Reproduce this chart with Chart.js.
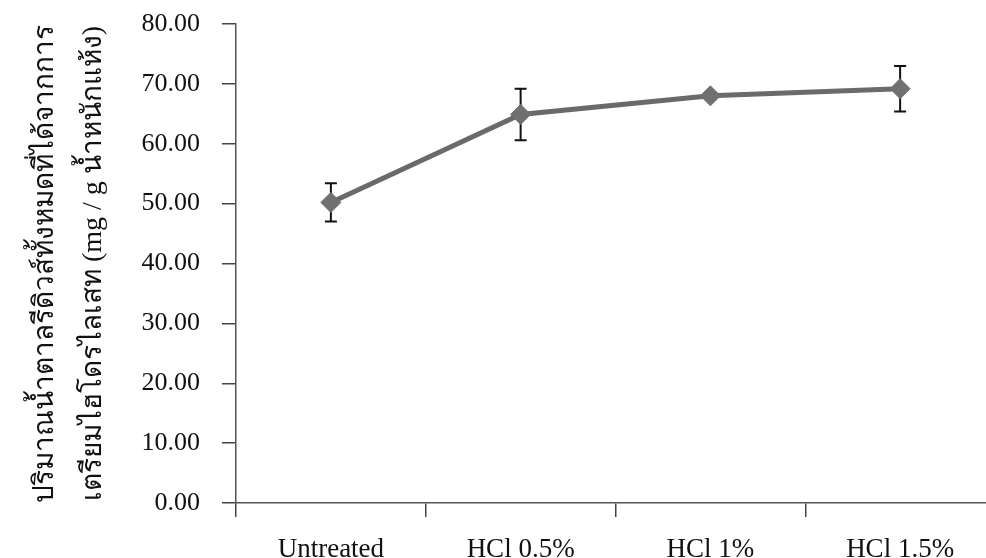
<!DOCTYPE html>
<html>
<head>
<meta charset="utf-8">
<script src="https://cdn.jsdelivr.net/npm/chart.js@4/dist/chart.umd.min.js"></script>
<style>
  html, body { margin: 0; padding: 0; background: #fff; overflow: hidden; }
  #chart { display: block; }
</style>
</head>
<body>
<canvas id="chart" width="1006" height="558"></canvas>
<script>
const categories = ['Untreated', 'HCl 0.5%', 'HCl 1%', 'HCl 1.5%'];
const sugarMeans = [50.2, 64.9, 68.0, 69.2];
const sugarErrors = [3.2, 4.3, 0.5, 3.8];
const yTitle = [
  'ปริมาณน้ำตาลรีดิวส์ทั้งหมดที่ได้จากการ',
  'เตรียมไฮโดรไลเสท (mg / g น้ำหนักแห้ง)'
];

const FONT = '"Liberation Serif", "Times New Roman", serif';

// error bars drawn under the markers
const errorBars = {
  id: 'errorBars',
  beforeDatasetsDraw(chart) {
    const { ctx, scales } = chart;
    const meta = chart.getDatasetMeta(0);
    ctx.save();
    ctx.strokeStyle = '#111';
    ctx.lineWidth = 2;
    meta.data.forEach((pt, i) => {
      const x = pt.x;
      const top = scales.y.getPixelForValue(sugarMeans[i] + sugarErrors[i]);
      const bot = scales.y.getPixelForValue(sugarMeans[i] - sugarErrors[i]);
      ctx.beginPath();
      ctx.moveTo(x, top); ctx.lineTo(x, bot);
      ctx.moveTo(x - 6, top); ctx.lineTo(x + 6, top);
      ctx.moveTo(x - 6, bot); ctx.lineTo(x + 6, bot);
      ctx.stroke();
    });
    ctx.restore();
  }
};

new Chart(document.getElementById('chart'), {
  type: 'line',
  data: {
    labels: categories,
    datasets: [{
      data: sugarMeans,
      borderColor: '#6a6a6a',
      borderWidth: 5,
      pointStyle: 'rectRot',
      pointRadius: 10,
      pointBackgroundColor: '#707070',
      pointBorderColor: '#707070',
      pointBorderWidth: 1,
      tension: 0
    }]
  },
  options: {
    responsive: false,
    animation: false,
    layout: { padding: { top: 24, right: 0, left: 0, bottom: 0 } },
    plugins: {
      legend: { display: false },
      tooltip: { enabled: false }
    },
    scales: {
      x: {
        offset: true,
        afterFit(scale) { scale.height = 55; },
        grid: {
          offset: true,
          drawOnChartArea: false,
          tickLength: 14,
          color: '#444',
          lineWidth: 1.5
        },
        border: { color: '#555', width: 1.5 },
        ticks: {
          color: '#111',
          padding: 17,
          font: { family: FONT, size: 27 }
        }
      },
      y: {
        min: 0,
        max: 80,
        afterFit(scale) {
          scale.width = 236;
          scale.paddingTop = 0;
          scale.paddingBottom = 0;
        },
        grid: {
          drawOnChartArea: false,
          tickLength: 14,
          color: '#444',
          lineWidth: 1.5
        },
        border: { color: '#555', width: 1.5 },
        ticks: {
          stepSize: 10,
          color: '#111',
          padding: 22,
          font: { family: FONT, size: 26 },
          callback: v => Number(v).toFixed(2)
        },
        title: {
          display: true,
          text: yTitle,
          color: '#111',
          padding: { top: 22, bottom: 0 },
          font: { family: FONT, size: 28, lineHeight: 1.7 }
        }
      }
    }
  },
  plugins: [errorBars]
});
</script>
</body>
</html>
